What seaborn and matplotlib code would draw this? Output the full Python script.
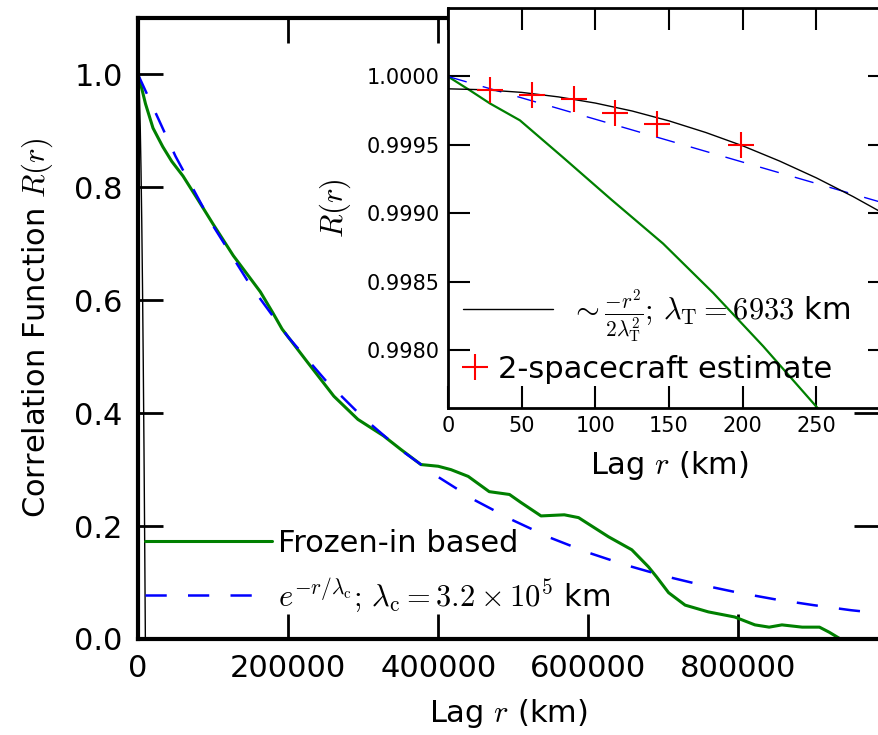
import numpy as np
import pandas as pd
import matplotlib
matplotlib.use("Agg")
import matplotlib.pyplot as plt
import seaborn as sns
from matplotlib.lines import Line2D
from matplotlib.ticker import FormatStrFormatter

# --- データ ---
# 主図: Frozen-in based
r_frozen = [0, 5000, 10000, 20000, 33000, 45000, 60000, 79000, 100000, 127000,
            145000, 163000, 180000, 192000, 226000, 261000, 293000, 327000, 350000,
            377000, 400000, 417000, 440000, 468000, 495000, 510000, 537000, 568000,
            587000, 627000, 658000, 680000, 691000, 707000, 729000, 760000, 795000,
            822000, 841000, 858000, 885000, 908000, 921000, 936000]
R_frozen = [1.0, 0.975, 0.948, 0.905, 0.872, 0.846, 0.82, 0.78, 0.735, 0.679,
            0.647, 0.615, 0.577, 0.549, 0.49, 0.43, 0.389, 0.36, 0.336,
            0.309, 0.306, 0.30, 0.288, 0.261, 0.256, 0.242, 0.218, 0.22,
            0.215, 0.181, 0.158, 0.128, 0.11, 0.082, 0.06, 0.048, 0.039,
            0.025, 0.021, 0.025, 0.021, 0.021, 0.012, 0.0]

# 指数フィット (青破線)
r_exp = [0, 50000, 100000, 150000, 200000, 250000, 300000, 350000, 400000, 450000,
         500000, 550000, 600000, 650000, 700000, 750000, 800000, 850000, 900000,
         950000, 1000000]
R_exp = [1.0, 0.855, 0.732, 0.626, 0.535, 0.458, 0.392, 0.335, 0.287, 0.245,
         0.210, 0.179, 0.153, 0.131, 0.112, 0.096, 0.082, 0.070, 0.060,
         0.051, 0.044]

# 放物線フィット (黒線, 主図と拡大図で共通)
r_fit = [0, 25, 50, 75, 100, 125, 150, 175, 200, 225, 250, 275, 300,
         1000, 2000, 3000, 4000, 5000, 6000, 7000, 8000, 9000, 9805]
R_fit = [0.99991, 0.999903, 0.999884, 0.999851, 0.999806, 0.999748, 0.999676,
         0.999591, 0.999494, 0.999383, 0.999260, 0.999123, 0.998974,
         0.9895, 0.9583, 0.9063, 0.8335, 0.7399, 0.6255, 0.4902, 0.3342,
         0.1574, 0.0]

# 拡大図: 小さいラグでの Frozen-in / 指数
r_frozen_in = [0, 15, 28.5, 48.8, 78, 111, 146, 180, 214, 250, 262]
R_frozen_in = [1.0, 0.999898, 0.999803, 0.99968, 0.99941, 0.9991, 0.99878,
               0.99842, 0.99803, 0.99759, 0.99745]
r_exp_in = [0, 100, 200, 300]
R_exp_in = [1.0, 0.999688, 0.999375, 0.999063]

# 2機推定
r_sc = [28.4, 56.8, 85.2, 113.6, 142.0, 198.8]
R_sc = [0.999898, 0.999867, 0.999833, 0.999733, 0.999656, 0.999498]

# --- スタイル ---
sns.set_style("ticks")
plt.rcParams['font.family'] = ['DejaVu Sans']
plt.rcParams['mathtext.fontset'] = 'cm'
plt.rcParams['mathtext.rm'] = 'serif'
for key in ['text.color', 'axes.labelcolor', 'xtick.color', 'ytick.color', 'axes.edgecolor']:
    plt.rcParams[key] = 'black'

GREEN = '#008000'
BLUE = '#0000ff'
RED = '#ff0000'

fig = plt.figure(figsize=(8.79, 7.35), dpi=100)
W, H = 879.0, 735.0

# 主図
ax = fig.add_axes([138 / W, 1 - 639 / H, (879.5 - 138) / W, (639 - 18) / H])
sns.lineplot(x=r_frozen, y=R_frozen, ax=ax, color=GREEN, lw=2.2, estimator=None)
sns.lineplot(x=r_exp, y=R_exp, ax=ax, color=BLUE, lw=1.8, estimator=None)
ax.lines[-1].set_dashes((8.5, 8.5))
sns.lineplot(x=r_fit, y=R_fit, ax=ax, color='black', lw=1.0, estimator=None)

ax.set_xlim(0, 988000)
ax.set_ylim(0, 1.1)
ax.set_xticks([0, 200000, 400000, 600000, 800000])
ax.set_yticks([0.0, 0.2, 0.4, 0.6, 0.8, 1.0])
ax.yaxis.set_major_formatter(FormatStrFormatter('%.1f'))
ax.tick_params(direction='in', length=18, width=2, labelsize=22,
               top=True, right=True, pad=11)
for sp in ax.spines.values():
    sp.set_linewidth(3)
    sp.set_color('black')
ax.set_xlabel(r'Lag $r$ (km)', fontsize=22, labelpad=10)
ax.set_ylabel(r'Correlation Function $R(r)$', fontsize=22, labelpad=14)

h_main = [Line2D([], [], color=GREEN, lw=2.2),
          Line2D([], [], color=BLUE, lw=1.8, dashes=(8.5, 8.5))]
l_main = ['Frozen-in based',
          r'$e^{-r/\lambda_{\rm c}};\, \lambda_{\rm c} = 3.2 \times 10^5$ km']
ax.legend(h_main, l_main, loc='lower left', bbox_to_anchor=(0.0094, 0.04),
          frameon=False, fontsize=22, handlelength=4.15, handletextpad=0.2,
          borderpad=0, borderaxespad=0, labelspacing=0.62)

# 拡大図
axin = fig.add_axes([448 / W, 1 - 408 / H, (890 - 448) / W, (408 - 8) / H])
axin.set_facecolor('white')
sns.lineplot(x=r_frozen_in, y=R_frozen_in, ax=axin, color=GREEN, lw=1.6, estimator=None)
sns.lineplot(x=r_exp_in, y=R_exp_in, ax=axin, color=BLUE, lw=1.0, estimator=None)
axin.lines[-1].set_dashes((14, 12))
sns.lineplot(x=r_fit, y=R_fit, ax=axin, color='black', lw=1.0, estimator=None)
axin.plot(r_sc, R_sc, ls='none', marker='+', ms=19, mew=1.5, color=RED)

axin.set_xlim(0, 300)
axin.set_ylim(0.99758, 1.0005)
axin.set_xticks([0, 50, 100, 150, 200, 250, 300])
axin.set_xticklabels(['0', '50', '100', '150', '200', '250', ''])
axin.set_yticks([0.998, 0.9985, 0.999, 0.9995, 1.0])
axin.yaxis.set_major_formatter(FormatStrFormatter('%.4f'))
axin.tick_params(direction='in', length=16, width=1.5, labelsize=15,
                 top=True, right=True, pad=6)
for sp in axin.spines.values():
    sp.set_linewidth(2)
    sp.set_color('black')
axin.set_xlabel(r'Lag $r$ (km)', fontsize=22, labelpad=9)
axin.set_ylabel(r'$R(r)$', fontsize=22, labelpad=10)

leg1 = axin.legend([Line2D([], [], color='black', lw=1.0)],
                   [r'$\sim\frac{-r^2}{2\lambda_{\rm T}^2};\, \lambda_{\rm T} = 6933$ km'],
                   loc='center left', bbox_to_anchor=(0.034, 0.23),
                   frameon=False, fontsize=22, handlelength=2.94,
                   handletextpad=0.55, borderpad=0, borderaxespad=0)
axin.add_artist(leg1)
axin.legend([Line2D([], [], ls='none', marker='+', ms=19, mew=1.5, color=RED)],
            ['2-spacecraft estimate'], loc='center left',
            bbox_to_anchor=(0.034, 0.097), frameon=False, fontsize=22,
            handlelength=0.8, handletextpad=0.34, borderpad=0, borderaxespad=0)

fig.savefig('out.png', dpi=100)
